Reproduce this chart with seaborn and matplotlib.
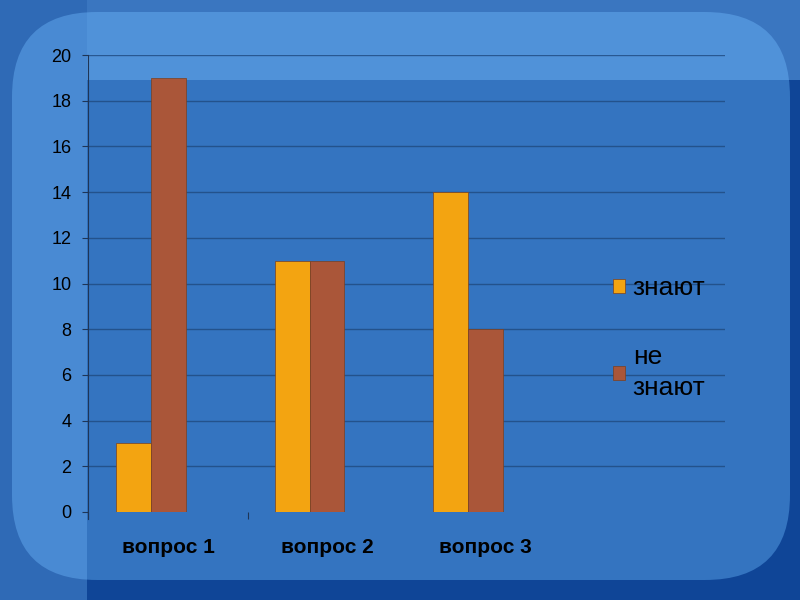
import matplotlib
matplotlib.use('Agg')
import matplotlib.pyplot as plt
import seaborn as sns
import pandas as pd
from matplotlib.patches import FancyBboxPatch, Rectangle, Patch
from matplotlib.transforms import ScaledTranslation

# data
questions = ['вопрос 1', 'вопрос 2', 'вопрос 3']
know = [3, 11, 14]
dont_know = [19, 11, 8]
series = ['знают', 'не\nзнают']
colors = ['#f3a411', '#aa5639']
yticks = [0, 2, 4, 6, 8, 10, 12, 14, 16, 18, 20]

df = pd.DataFrame({
    'question': questions * 2,
    'count': know + dont_know,
    'group': [series[0]] * 3 + [series[1]] * 3,
})

plt.rcParams['font.family'] = ['Liberation Sans', 'DejaVu Sans']

fig = plt.figure(figsize=(8, 6), dpi=100)
fig.patch.set_facecolor('#0f4597')

# slide background: rounded panel and the lighter bands
inch = fig.dpi_scale_trans
panel = FancyBboxPatch((0.12, 0.2), 7.78, 5.68,
                       boxstyle='round,pad=0,rounding_size=0.85',
                       transform=inch, facecolor='#3474c0', edgecolor='none', zorder=-3)
fig.patches.append(panel)
fig.patches.append(Rectangle((0.87, 5.2), 7.13, 0.8, transform=inch,
                             facecolor='#7cc0ff', alpha=0.4, edgecolor='none', zorder=-2))
fig.patches.append(Rectangle((0, 0), 0.87, 6, transform=inch,
                             facecolor='#7cc0ff', alpha=0.3, edgecolor='none', zorder=-2))

ax = fig.add_axes([88 / 800, 1 - 512 / 600, (725 - 88) / 800, (512 - 55) / 600])
ax.set_facecolor('none')

sns.barplot(data=df, x='question', y='count', hue='group', palette=colors,
            width=0.44, ax=ax, edgecolor='#7a4020', linewidth=0.5, legend=False,
            saturation=1, zorder=3)

ax.set_ylim(0, 20)
ax.set_xlim(-0.397, 3.62)
ax.set_yticks(yticks)
ax.set_yticklabels([str(v) for v in yticks], fontsize=13, color='black')
for v in yticks[1:]:
    ax.axhline(v, color='#1f4a80', lw=1, alpha=0.8, zorder=1)

for s in ['top', 'right', 'bottom']:
    ax.spines[s].set_visible(False)
ax.spines['left'].set_color('#1e3556')
ax.spines['left'].set_linewidth(0.8)
ax.spines['left'].set_bounds(-0.3, 20)
ax.tick_params(axis='y', length=4, color='#1e3556', pad=8)

ax.set_xticks([0, 1, 2])
ax.set_xticklabels(questions, fontsize=15, fontweight='bold', color='black')
ax.tick_params(axis='x', length=0, pad=19)
for lab in ax.get_xticklabels():
    lab.set_transform(lab.get_transform() + ScaledTranslation(0.175, 0, fig.dpi_scale_trans))
ax.set_xticks([-0.397, 0.612], minor=True)
ax.tick_params(axis='x', which='minor', length=5, color='#1e3556', width=0.8)

ax.set_xlabel('')
ax.set_ylabel('')

handles = [Patch(facecolor=c, edgecolor='#7a4020', linewidth=0.5) for c in colors]
leg = fig.legend(handles, series, loc='upper left', bbox_to_anchor=(613 / 800, 1 - 276 / 600),
                 frameon=False, fontsize=19, handlelength=0.45, handleheight=0.45,
                 handletextpad=0.3, labelspacing=1.7, borderpad=0, borderaxespad=0)
for t in leg.get_texts():
    t.set_linespacing(1.4)

fig.savefig('out.png', dpi=100, facecolor=fig.get_facecolor())
